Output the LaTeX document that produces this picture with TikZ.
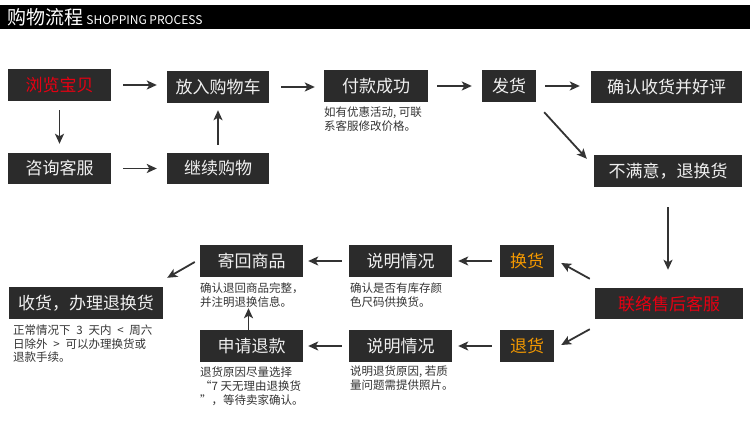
\documentclass[tikz,border=0pt]{standalone}
\usepackage{fontspec}
\setmainfont{Noto Sans CJK SC}
\usepackage{tikz}
\usetikzlibrary{arrows.meta,positioning}
\definecolor{boxgray}{HTML}{2B2B2B}
\definecolor{arrgray}{HTML}{333333}
\definecolor{notegray}{HTML}{333333}
\definecolor{hotred}{HTML}{E60012}
\definecolor{orangetxt}{HTML}{F39800}
\tikzset{>={Stealth[length=10pt,width=9pt,inset=2.5pt]},
  box/.style={fill=boxgray, text=white!94!black, minimum height=32pt, inner sep=0pt,
    font=\fontsize{17}{17}\selectfont},
  note/.style={anchor=north west, inner sep=0pt, align=left, text=notegray,
    font=\fontsize{11.5}{14}\selectfont},
  arr/.style={->, draw=arrgray, line width=1.8pt}}

\begin{document}
\begin{tikzpicture}[x=1pt,y=-1pt]
    \useasboundingbox (0,0) rectangle (750,430);
    % title bar
    \fill[black] (0,5) rectangle (750,29);
    \node[anchor=west, inner sep=0pt, text=white] (title) at (7,17)
        {\fontsize{19}{19}\selectfont 购物流程\,\fontsize{12}{12}\selectfont SHOPPING PROCESS};
    % top rows
    \node[box, minimum width=103pt, text=hotred] (browse) at (59.5,85) {浏览宝贝};
    \node[box, minimum width=102pt] (cart) at (218,87) {放入购物车};
    \node[box, minimum width=104pt] (pay) at (376,86) {付款成功};
    \node[box, minimum width=54pt] (ship) at (509,86) {发货};
    \node[box, minimum width=151pt] (confirm) at (666.5,87) {确认收货并好评};
    \node[box, minimum width=103pt, minimum height=31pt] (consult) at (59.5,168.5) {咨询客服};
    \node[box, minimum width=102pt, minimum height=31pt] (goon) at (218,168.5) {继续购物};
    \node[box, minimum width=148pt] (unhappy) at (668,171) {不满意，退换货};
    \node[note] (paynote) at (324,107) {如有优惠活动, 可联\\系客服修改价格。};
    % after-sale part
    \node[box, minimum width=148pt, minimum height=31pt, text=hotred] (service) at (669,303.5) {联络售后客服};
    \node[box, minimum width=54pt, text=orangetxt] (swap) at (527,261) {换货};
    \node[box, minimum width=54pt, text=orangetxt] (back) at (527,346) {退货};
    \node[box, minimum width=103pt] (tellA) at (400.5,261) {说明情况};
    \node[box, minimum width=103pt] (tellB) at (400.5,346) {说明情况};
    \node[box, minimum width=103pt] (sendback) at (251.5,261) {寄回商品};
    \node[box, minimum width=103pt] (refund) at (251.5,346) {申请退款};
    \node[box, minimum width=154pt] (receive) at (86,303) {收货，办理退换货};
    \node[note] (tellAnote) at (350,283) {确认是否有库存颜\\色尺码供换货。};
    \node[note] (tellBnote) at (350,366) {说明退货原因, 若质\\量问题需提供照片。};
    \node[note] (sendnote) at (200,283) {确认退回商品完整，\\并注明退换信息。};
    \node[note] (refundnote) at (200,367) {退货原因尽量选择\\“7 天无理由退换货\\”，等待卖家确认。};
    \node[note, font=\fontsize{11.5}{13.5}\selectfont] (receivenote) at (13,325)
        {正常情况下\enspace 3\enspace 天内\enspace <\enspace 周六\\日除外\enspace >\enspace 可以办理换货或\\退款手续。};
    % arrows
    \draw[arr, shorten <=12pt, shorten >=10pt] (browse.east) -- (browse.east -| cart.west);
    \draw[arr, shorten <=12pt, shorten >=9pt] (cart.east) -- (cart.east -| pay.west);
    \draw[arr, shorten <=9pt, shorten >=10pt] (pay.east) -- (ship.west);
    \draw[arr, shorten <=9pt, shorten >=11pt] (ship.east) -- (ship.east -| confirm.west);
    \draw[arr, shorten <=9pt, shorten >=9pt] (browse.south) -- (consult.north);
    \draw[arr, shorten <=12pt, shorten >=10pt] (consult.east) -- (goon.west);
    \draw[arr, shorten <=8pt, shorten >=7pt] (goon.north) -- (cart.south);
    \draw[arr] ([shift={(8,10)}]ship.south east) -- ([shift={(-7,4)}]unhappy.north west);
    \draw[arr, shorten <=20pt, shorten >=18pt] (unhappy.south) -- (unhappy.south |- service.north);
    \draw[arr] ([shift={(-5,-9)}]service.north west) -- ([shift={(7,2)}]swap.east);
    \draw[arr] ([shift={(-5,10)}]service.south west) -- ([shift={(7,-1)}]back.east);
    \draw[arr, shorten <=8pt, shorten >=6pt] (swap.west) -- (tellA.east);
    \draw[arr, shorten <=8pt, shorten >=6pt] (back.west) -- (tellB.east);
    \draw[arr, shorten <=7pt, shorten >=5pt] (tellA.west) -- (sendback.east);
    \draw[arr, shorten <=7pt, shorten >=5pt] (tellB.west) -- (refund.east);
    \draw[arr] ([xshift=-3pt]refund.north) -- ([shift={(-3,31)}]sendback.south);
    \draw[arr] ([shift={(-5,1)}]sendback.west) -- ([shift={(4,-9)}]receive.north east);
\end{tikzpicture}
\end{document}
